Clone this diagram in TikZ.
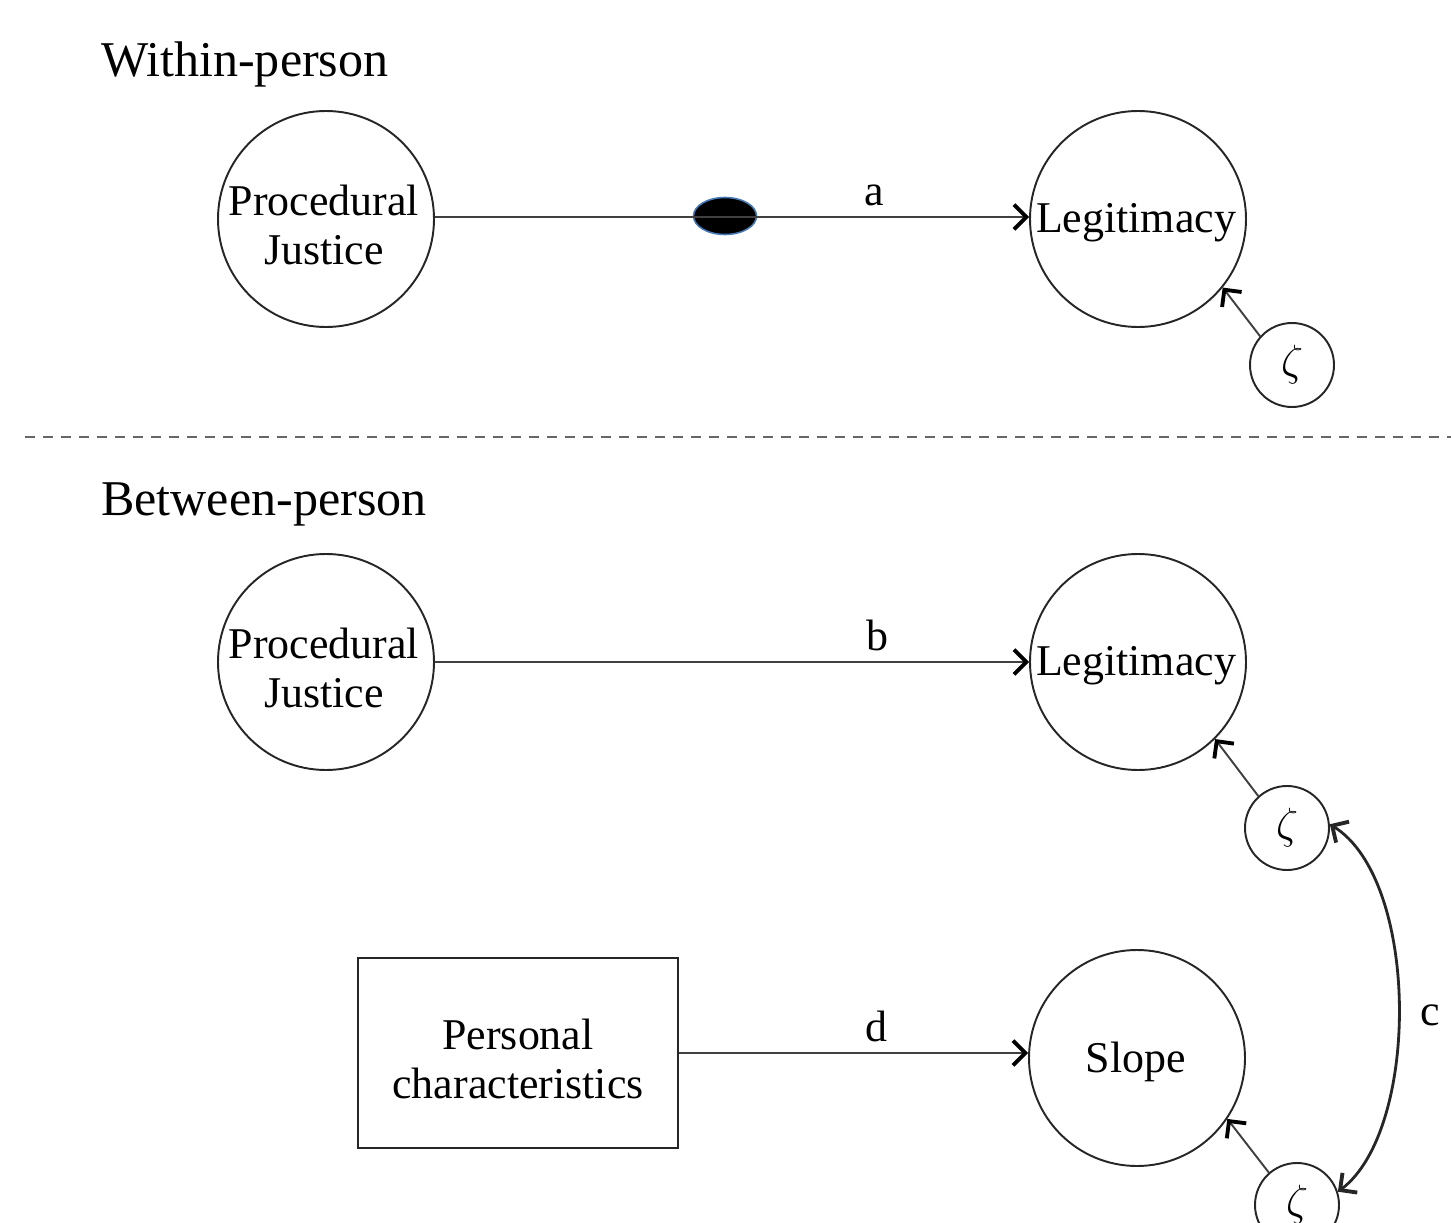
\documentclass[tikz,border=0pt]{standalone}
\usepackage{fontspec}
\setmainfont{Liberation Serif}
\usetikzlibrary{arrows.meta,shapes.geometric}
\begin{document}
\begin{tikzpicture}[x=0.02cm,y=-0.02cm,
  every node/.style={font=\fontsize{25}{28}\selectfont},
  latent/.style={draw=black!85,circle,line width=1.1pt,minimum size=216*0.02cm,inner sep=0pt},
  txt/.style={align=center,inner sep=0pt},
  err/.style={draw=black!85,circle,line width=1.1pt,minimum size=84*0.02cm,inner sep=0pt,font=\fontsize{31}{34}\selectfont},
  obs/.style={draw=black!85,rectangle,line width=1.2pt,minimum width=320*0.02cm,minimum height=190*0.02cm},
  heading/.style={anchor=west,font=\fontsize{28.5}{32}\selectfont},
  path/.style={draw=black!75,line width=1.4pt,-{Straight Barb[length=7pt,width=14pt,line width=2.2pt,color=black]}},
  lbl/.style={font=\fontsize{25}{28}\selectfont}]
\useasboundingbox (0,0) rectangle (1451,1223);
\node[heading] (h1) at (95,64) {Within-person};
\node[heading] (h2) at (95,504) {Between-person};
\draw[black!60,line width=1.2pt,dash pattern=on 0.2cm off 0.16cm] (25,437) -- (1451,437);
% within
\node[latent] (pj1) at (326,219) {};
\node[txt] (pj1t) at (324,225) {Procedural\\Justice};
\node[latent] (leg1) at (1138,219) {};
\node[txt] (leg1t) at (1136,223) {Legitimacy};
\node[err] (z1) at (1292,365) {$\zeta$};
\node[ellipse,fill=black,draw={rgb,255:red,70;green,120;blue,180},line width=0.9pt,minimum width=63*0.02cm,minimum height=37*0.02cm,inner sep=0pt] (dot) at (725,216) {};
\draw[path] (pj1.east |- 0,217) -- (leg1.west |- 0,217) node[lbl,pos=0.74,above=2pt] (la) {a};
\draw[path,line width=1.1pt] (z1.138) -- (leg1.-39);
% between
\node[latent] (pj2) at (326,662) {};
\node[txt] (pj2t) at (324,668) {Procedural\\Justice};
\node[latent] (leg2) at (1138,662) {};
\node[txt] (leg2t) at (1136,666) {Legitimacy};
\node[err] (z2) at (1287,828) {$\zeta$};
\node[latent] (slope) at (1137,1058) {};
\node[txt] (slopet) at (1136,1062) {Slope};
\node[obs] (pc) at (518,1053) {};
\node[txt] (pct) at (518,1059) {Personal\\characteristics};
\node[err] (z3) at (1297,1205) {$\zeta$};
\draw[path] (pj2.east) -- (leg2.west) node[lbl,pos=0.745,above=2pt] (lb) {b};
\draw[path] (pc.east |- 0,1053) -- (slope.west |- 0,1053) node[lbl,pos=0.565,above=2pt] (ld) {d};
\draw[path,line width=1.1pt] (z2.132) -- (leg2.-45);
\draw[path,line width=1.1pt] (z3.131) -- (slope.-34);
\draw[black!85,line width=1.6pt,{Straight Barb[length=7pt,width=14pt,line width=2.2pt]}-{Straight Barb[length=7pt,width=14pt,line width=2.2pt]}]
  (z2.5) .. controls (1420,880) and (1420,1130) .. (z3.18);
\node[lbl] (lc) at (1430,1015) {c};
\end{tikzpicture}
\end{document}
